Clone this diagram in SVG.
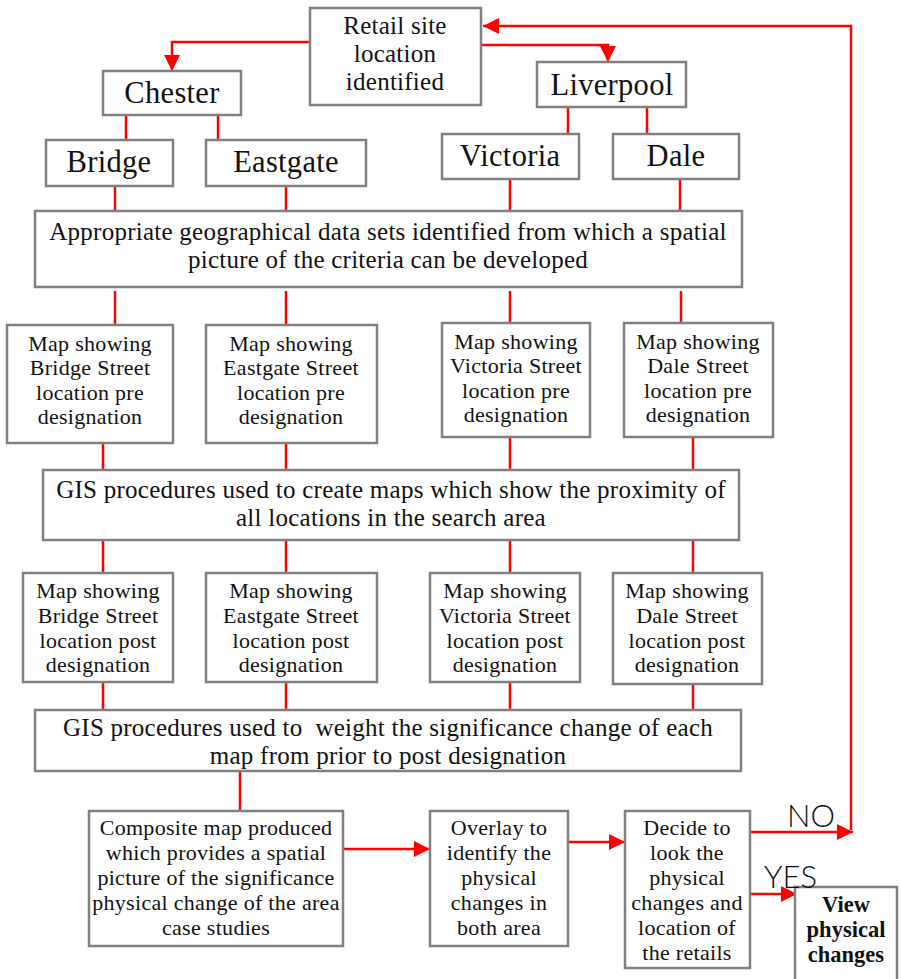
<svg xmlns="http://www.w3.org/2000/svg" width="901" height="979" viewBox="0 0 901 979">
  <style>
    .box { fill: #ffffff; stroke: #808080; stroke-width: 2.5; }
    .link { fill: none; stroke: #ff0000; stroke-width: 2.5; }
    text { font-family: "Liberation Serif", "Times New Roman", serif; fill: #111111; text-anchor: middle; }
    .lg { font-size: 30.5px; letter-spacing: 0.3px; }
    .md { font-size: 25px; letter-spacing: 0.25px; }
    .sm { font-size: 22px; letter-spacing: 0.3px; }
    .bold { font-weight: bold; font-size: 22.5px; }
    .yn { font-family: Lato, "Liberation Sans", sans-serif; font-weight: 300; font-size: 31px; text-anchor: start; }
  </style>
  <defs>
    <marker id="arrow" viewBox="0 0 10 10" refX="10" refY="5" markerWidth="6.5" markerHeight="6.5" markerUnits="strokeWidth" orient="auto">
      <path d="M0,0 L10,5 L0,10 Z" fill="#ff0000"/>
    </marker>
  </defs>
  <rect width="901" height="979" fill="#ffffff"/>

  <g id="connectors">
    <!-- start node to the two cities -->
    <polyline class="link" points="310,42 172,42 172,71" marker-end="url(#arrow)"/>
    <polyline class="link" points="481,45 608,45 608,62" marker-end="url(#arrow)"/>
    <!-- NO loop back to the start -->
    <polyline class="link" points="851,830 851,26 483,26" marker-end="url(#arrow)"/>
    <!-- cities to streets -->
    <line class="link" x1="126" y1="115" x2="126" y2="140"/>
    <line class="link" x1="218" y1="115" x2="218" y2="140"/>
    <line class="link" x1="568" y1="107" x2="568" y2="134"/>
    <line class="link" x1="647" y1="107" x2="647" y2="134"/>
    <!-- streets to data sets -->
    <line class="link" x1="115" y1="186" x2="115" y2="211"/>
    <line class="link" x1="286" y1="186" x2="286" y2="211"/>
    <line class="link" x1="510" y1="179" x2="510" y2="211"/>
    <line class="link" x1="680" y1="179" x2="680" y2="211"/>
    <!-- data sets to pre maps -->
    <line class="link" x1="115" y1="291" x2="115" y2="325"/>
    <line class="link" x1="286" y1="291" x2="286" y2="325"/>
    <line class="link" x1="510" y1="291" x2="510" y2="323"/>
    <line class="link" x1="681" y1="291" x2="681" y2="323"/>
    <!-- pre maps to proximity procedures -->
    <line class="link" x1="103" y1="443" x2="103" y2="470"/>
    <line class="link" x1="286" y1="443" x2="286" y2="470"/>
    <line class="link" x1="510" y1="437" x2="510" y2="470"/>
    <line class="link" x1="693" y1="437" x2="693" y2="470"/>
    <!-- proximity procedures to post maps -->
    <line class="link" x1="103" y1="540" x2="103" y2="573"/>
    <line class="link" x1="286" y1="540" x2="286" y2="573"/>
    <line class="link" x1="510" y1="540" x2="510" y2="573"/>
    <line class="link" x1="693" y1="540" x2="693" y2="573"/>
    <!-- post maps to weighting procedures -->
    <line class="link" x1="103" y1="682" x2="103" y2="710"/>
    <line class="link" x1="286" y1="682" x2="286" y2="710"/>
    <line class="link" x1="510" y1="682" x2="510" y2="710"/>
    <line class="link" x1="693" y1="684" x2="693" y2="710"/>
    <!-- weighting to composite -->
    <line class="link" x1="240" y1="771" x2="240" y2="811"/>
    <!-- bottom row -->
    <line class="link" x1="343" y1="849" x2="430" y2="849" marker-end="url(#arrow)"/>
    <line class="link" x1="568" y1="842" x2="625" y2="842" marker-end="url(#arrow)"/>
    <line class="link" x1="750" y1="832" x2="853" y2="832" marker-end="url(#arrow)"/>
    <line class="link" x1="750" y1="894" x2="797" y2="894" marker-end="url(#arrow)"/>
  </g>

  <g id="retail-site">
    <rect class="box" x="310" y="8" width="171" height="97"/>
    <text class="md" x="395" y="34">Retail site</text>
    <text class="md" x="395" y="62">location</text>
    <text class="md" x="395" y="90">identified</text>
  </g>

  <g id="chester">
    <rect class="box" x="103" y="71" width="138" height="44"/>
    <text class="lg" x="172" y="103">Chester</text>
  </g>
  <g id="liverpool">
    <rect class="box" x="537" y="62" width="149" height="45"/>
    <text class="lg" x="612" y="95">Liverpool</text>
  </g>

  <g id="bridge">
    <rect class="box" x="46" y="140" width="127" height="46"/>
    <text class="lg" x="109" y="172">Bridge</text>
  </g>
  <g id="eastgate">
    <rect class="box" x="206" y="140" width="160" height="46"/>
    <text class="lg" x="286" y="172">Eastgate</text>
  </g>
  <g id="victoria">
    <rect class="box" x="442" y="134" width="137" height="45"/>
    <text class="lg" x="510" y="166">Victoria</text>
  </g>
  <g id="dale">
    <rect class="box" x="613" y="134" width="126" height="45"/>
    <text class="lg" x="676" y="166">Dale</text>
  </g>

  <g id="data-sets">
    <rect class="box" x="35" y="211" width="707" height="76"/>
    <text class="md" x="388" y="240">Appropriate geographical data sets identified from which a spatial</text>
    <text class="md" x="388" y="268">picture of the criteria can be developed</text>
  </g>

  <g id="bridge-pre">
    <rect class="box" x="7" y="325" width="166" height="118"/>
    <text class="sm" x="90" y="351">Map showing</text>
    <text class="sm" x="90" y="375">Bridge Street</text>
    <text class="sm" x="90" y="400">location pre</text>
    <text class="sm" x="90" y="424">designation</text>
  </g>
  <g id="eastgate-pre">
    <rect class="box" x="206" y="325" width="171" height="118"/>
    <text class="sm" x="291" y="351">Map showing</text>
    <text class="sm" x="291" y="375">Eastgate Street</text>
    <text class="sm" x="291" y="400">location pre</text>
    <text class="sm" x="291" y="424">designation</text>
  </g>
  <g id="victoria-pre">
    <rect class="box" x="442" y="323" width="148" height="114"/>
    <text class="sm" x="516" y="349">Map showing</text>
    <text class="sm" x="516" y="373">Victoria Street</text>
    <text class="sm" x="516" y="398">location pre</text>
    <text class="sm" x="516" y="422">designation</text>
  </g>
  <g id="dale-pre">
    <rect class="box" x="624" y="323" width="149" height="114"/>
    <text class="sm" x="698" y="349">Map showing</text>
    <text class="sm" x="698" y="373">Dale Street</text>
    <text class="sm" x="698" y="398">location pre</text>
    <text class="sm" x="698" y="422">designation</text>
  </g>

  <g id="proximity">
    <rect class="box" x="43" y="470" width="696" height="70"/>
    <text class="md" x="391" y="498">GIS procedures used to create maps which show the proximity of</text>
    <text class="md" x="391" y="526">all locations in the search area</text>
  </g>

  <g id="bridge-post">
    <rect class="box" x="23" y="573" width="150" height="109"/>
    <text class="sm" x="98" y="598">Map showing</text>
    <text class="sm" x="98" y="623">Bridge Street</text>
    <text class="sm" x="98" y="648">location post</text>
    <text class="sm" x="98" y="672">designation</text>
  </g>
  <g id="eastgate-post">
    <rect class="box" x="206" y="573" width="171" height="109"/>
    <text class="sm" x="291" y="598">Map showing</text>
    <text class="sm" x="291" y="623">Eastgate Street</text>
    <text class="sm" x="291" y="648">location post</text>
    <text class="sm" x="291" y="672">designation</text>
  </g>
  <g id="victoria-post">
    <rect class="box" x="430" y="573" width="150" height="109"/>
    <text class="sm" x="505" y="598">Map showing</text>
    <text class="sm" x="505" y="623">Victoria Street</text>
    <text class="sm" x="505" y="648">location post</text>
    <text class="sm" x="505" y="672">designation</text>
  </g>
  <g id="dale-post">
    <rect class="box" x="613" y="573" width="149" height="111"/>
    <text class="sm" x="687" y="598">Map showing</text>
    <text class="sm" x="687" y="623">Dale Street</text>
    <text class="sm" x="687" y="648">location post</text>
    <text class="sm" x="687" y="672">designation</text>
  </g>

  <g id="weighting">
    <rect class="box" x="35" y="710" width="706" height="61"/>
    <text class="md" x="388" y="736" style="white-space:pre">GIS procedures used to  weight the significance change of each</text>
    <text class="md" x="388" y="764">map from prior to post designation</text>
  </g>

  <g id="composite">
    <rect class="box" x="89" y="811" width="254" height="135"/>
    <text class="sm" x="216" y="835">Composite map produced</text>
    <text class="sm" x="216" y="860">which provides a spatial</text>
    <text class="sm" x="216" y="885">picture of the significance</text>
    <text class="sm" x="216" y="910">physical change of the area</text>
    <text class="sm" x="216" y="935">case studies</text>
  </g>

  <g id="overlay">
    <rect class="box" x="430" y="811" width="138" height="135"/>
    <text class="sm" x="499" y="835">Overlay to</text>
    <text class="sm" x="499" y="860">identify the</text>
    <text class="sm" x="499" y="885">physical</text>
    <text class="sm" x="499" y="910">changes in</text>
    <text class="sm" x="499" y="935">both area</text>
  </g>

  <g id="decide">
    <rect class="box" x="625" y="811" width="125" height="157"/>
    <text class="sm" x="687" y="835">Decide to</text>
    <text class="sm" x="687" y="860">look the</text>
    <text class="sm" x="687" y="885">physical</text>
    <text class="sm" x="687" y="910">changes and</text>
    <text class="sm" x="687" y="935">location of</text>
    <text class="sm" x="687" y="960">the retails</text>
  </g>

  <g id="view-changes">
    <rect class="box" x="795" y="887" width="102" height="95"/>
    <text class="bold" x="846" y="912">View</text>
    <text class="bold" x="846" y="937">physical</text>
    <text class="bold" x="846" y="962">changes</text>
  </g>

  <g id="decision-labels">
    <text class="yn" x="787" y="827">NO</text>
    <text class="yn" x="764" y="888">YES</text>
  </g>
</svg>
